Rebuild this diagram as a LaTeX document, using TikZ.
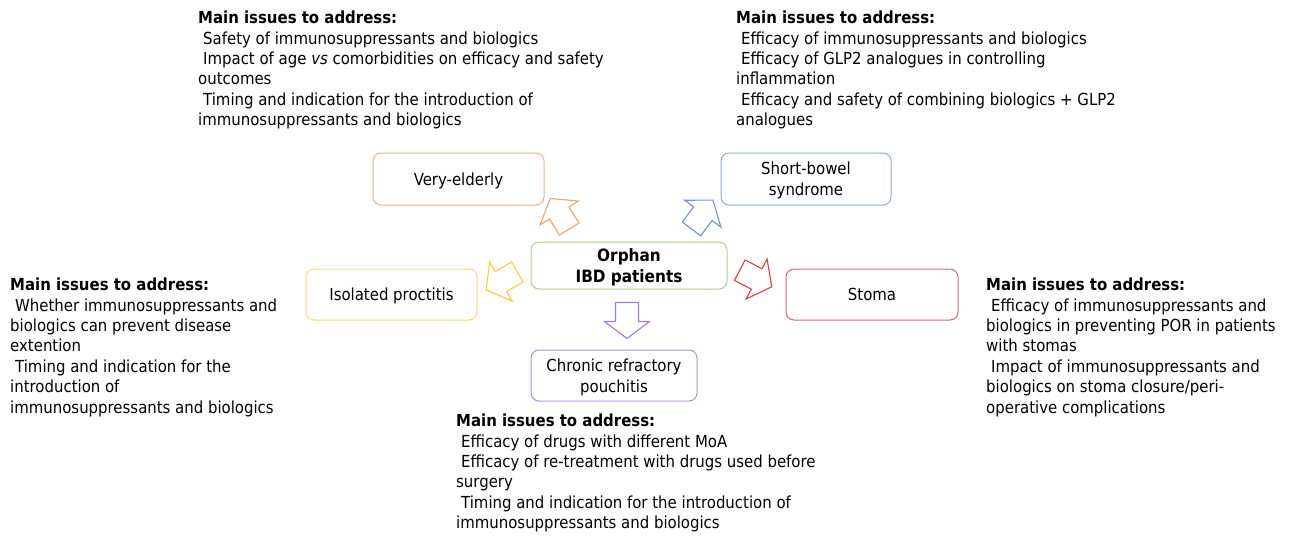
\documentclass[tikz,border=0pt]{standalone}
\usepackage{fontspec}
\setmainfont{DejaVu Sans Condensed}
\definecolor{cOrB}{HTML}{F4B183}
\definecolor{cOrA}{HTML}{F4A46C}
\definecolor{cBlB}{HTML}{8FAADC}
\definecolor{cBlA}{HTML}{6F92D6}
\definecolor{cGrB}{HTML}{A9D18E}
\definecolor{cYeB}{HTML}{FFD966}
\definecolor{cYeA}{HTML}{FFCC33}
\definecolor{cReB}{HTML}{E06666}
\definecolor{cReA}{HTML}{E04040}
\definecolor{cPuB}{HTML}{B28FE0}
\definecolor{cPuA}{HTML}{A07AD8}
\newcommand\blockarrow[4]{\draw[#1, line width=1.1pt, line join=miter, shift={(#2,#3)}, rotate=#4]
  (-18,-11.5) -- (1,-11.5) -- (1,-22.5) -- (18,0) -- (1,22.5) -- (1,11.5) -- (-18,11.5) -- cycle;}
\newcommand\ind{\hspace*{5pt}}
\begin{document}
\begin{tikzpicture}[x=1pt,y=-1pt,
  txt/.style={font=\fontsize{16.6}{20.4}\selectfont},
  box/.style={draw, line width=1pt, rounded corners=8pt, align=center, inner sep=0pt,
    font=\fontsize{16.6}{21}\selectfont, text depth=0pt},
  issues/.style={anchor=north west, inner sep=0pt, align=left, txt}]
\useasboundingbox (0,0) rectangle (1289,535);
\fill[white] (0,0) rectangle (1289,535);

% boxes
\node[box, draw=cOrB, minimum width=171pt, minimum height=52pt] (vel) at (458.5,179) {Very-elderly};
\node[box, draw=cBlB, minimum width=170pt, minimum height=52pt] (sbs) at (806,179) {Short-bowel\\syndrome};
\node[box, draw=cGrB, minimum width=196pt, minimum height=47pt, font=\fontsize{17}{20.4}\selectfont\bfseries] (orph) at (629,265.5) {Orphan\\IBD patients};
\node[box, draw=cYeB, minimum width=171pt, minimum height=51pt] (iso) at (391.5,294.5) {Isolated proctitis};
\node[box, draw=cReB, minimum width=172pt, minimum height=51pt] (sto) at (872,294.5) {Stoma};
\node[box, draw=cPuB, minimum width=166pt, minimum height=51pt] (pou) at (614,375.5) {Chronic refractory\\pouchitis};

% block arrows
\blockarrow{cOrA}{559.75}{213.75}{121.8}
\blockarrow{cBlA}{702.25}{214.5}{53.4}
\blockarrow{cReA}{755.75}{278.5}{-27.6}
\blockarrow{cYeA}{501.75}{281}{209.7}
\blockarrow{cPuA}{627}{320.5}{-90}

% issue texts
\node[issues] (t1) at (198,23.5-14.28) {\strut\textbf{Main issues to address:}\\
\ind Safety of immunosuppressants and biologics\\
\ind Impact of age \textit{vs} comorbidities on efficacy and safety\\
outcomes\\
\ind Timing and indication for the introduction of\\
immunosuppressants and biologics};

\node[issues] (t2) at (736,23.5-14.28) {\strut\textbf{Main issues to address:}\\
\ind Efficacy of immunosuppressants and biologics\\
\ind Efficacy of GLP2 analogues in controlling\\
inflammation\\
\ind Efficacy and safety of combining biologics + GLP2\\
analogues};

\node[issues] (t3) at (10,290.5-14.28) {\strut\textbf{Main issues to address:}\\
\ind Whether immunosuppressants and\\
biologics can prevent disease\\
extention\\
\ind Timing and indication for the\\
introduction of\\
immunosuppressants and biologics};

\node[issues] (t4) at (986,290.5-14.28) {\strut\textbf{Main issues to address:}\\
\ind Efficacy of immunosuppressants and\\
biologics in preventing POR in patients\\
with stomas\\
\ind Impact of immunosuppressants and\\
biologics on stoma closure/peri-\\
operative complications};

\node[issues] (t5) at (456,426.5-14.28) {\strut\textbf{Main issues to address:}\\
\ind Efficacy of drugs with different MoA\\
\ind Efficacy of re-treatment with drugs used before\\
surgery\\
\ind Timing and indication for the introduction of\\
immunosuppressants and biologics};
\end{tikzpicture}
\end{document}
